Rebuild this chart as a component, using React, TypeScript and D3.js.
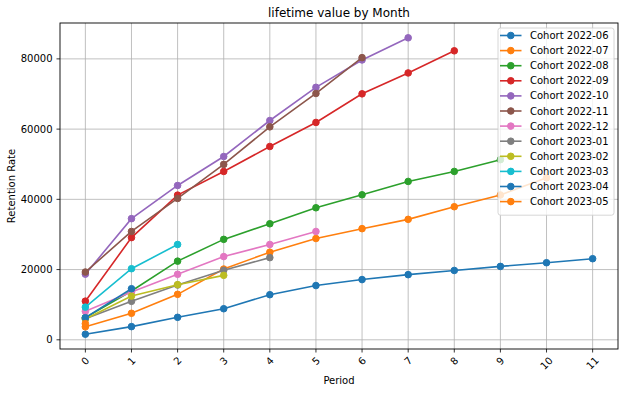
import React from 'react';
import * as d3 from 'd3';

const periods = [0, 1, 2, 3, 4, 5, 6, 7, 8, 9, 10, 11];
const yTicks = [0, 20000, 40000, 60000, 80000];

const cohorts = [
  'Cohort 2022-06', 'Cohort 2022-07', 'Cohort 2022-08', 'Cohort 2022-09',
  'Cohort 2022-10', 'Cohort 2022-11', 'Cohort 2022-12', 'Cohort 2023-01',
  'Cohort 2023-02', 'Cohort 2023-03', 'Cohort 2023-04', 'Cohort 2023-05',
];

const c202206 = [1600, 3750, 6400, 8850, 12850, 15450, 17150, 18550, 19750, 20900, 21950, 23100];
const c202207 = [3700, 7550, 12950, 20150, 24950, 28850, 31650, 34300, 37900, 41250, 46150];
const c202208 = [6300, 13900, 22400, 28600, 33050, 37600, 41300, 45100, 47950, 51300];
const c202209 = [11000, 29100, 41200, 47950, 55050, 61900, 70050, 76000, 82300];
const c202210 = [18700, 34500, 43950, 52200, 62450, 71900, 79700, 86000];
const c202211 = [19300, 30850, 40250, 49950, 60650, 70150, 80350];
const c202212 = [8100, 13600, 18650, 23700, 27150, 30850];
const c202301 = [6000, 10950, 15600, 19800, 23400];
const c202302 = [5900, 12450, 15700, 18350];
const c202303 = [9300, 20250, 27150];
const c202304 = [6300, 14550];
const c202305 = [4600];

const series = [c202206, c202207, c202208, c202209, c202210, c202211, c202212, c202301, c202302, c202303, c202304, c202305];

const palette = ['#1f77b4', '#ff7f0e', '#2ca02c', '#d62728', '#9467bd', '#8c564b', '#e377c2', '#7f7f7f', '#bcbd22', '#17becf'];

const W = 624;
const H = 393;
const left = 60, right = 618, top = 23, bottom = 349;
const font = 'DejaVu Sans, sans-serif';

export default function App() {
  const x = d3.scaleLinear().domain([-0.55, 11.55]).range([left, right]);
  const all = series.flat();
  const yMin = d3.min(all) as number;
  const yMax = d3.max(all) as number;
  const pad = (yMax - yMin) * 0.05;
  const y = d3.scaleLinear().domain([yMin - pad, yMax + pad]).range([bottom, top]);

  const line = d3.line<number>().x((_, i) => x(periods[i])).y((d) => y(d));

  // legend geometry
  const lgX = 498, lgY = 28, lgW = 116, rowH = 15.1;
  const lgH = rowH * cohorts.length + 6;

  return (
    <svg width={W} height={H} style={{ position: 'absolute', left: 0, top: 0, background: '#fff' }} fontFamily={font}>
      <rect width={W} height={H} fill="#fff" />
      {/* grid */}
      {periods.map((p) => (
        <line key={'gx' + p} x1={x(p)} x2={x(p)} y1={top} y2={bottom} stroke="#b0b0b0" strokeWidth={0.8} />
      ))}
      {yTicks.map((t) => (
        <line key={'gy' + t} x1={left} x2={right} y1={y(t)} y2={y(t)} stroke="#b0b0b0" strokeWidth={0.8} />
      ))}

      {/* series */}
      <g>
        {series.map((s, i) => (
          <g key={cohorts[i]}>
            <path d={line(s) || ''} fill="none" stroke={palette[i % 10]} strokeWidth={1.6} />
            {s.map((v, j) => (
              <circle key={j} cx={x(periods[j])} cy={y(v)} r={3.3} fill={palette[i % 10]} stroke={palette[i % 10]} strokeWidth={1} />
            ))}
          </g>
        ))}
      </g>

      {/* spines */}
      <rect x={left} y={top} width={right - left} height={bottom - top} fill="none" stroke="#000" strokeWidth={0.9} />

      {/* x ticks */}
      {periods.map((p) => {
        const lbl = String(p);
        const w = lbl.length * 6.36;
        const off = (w + 7.5) * 0.707 / 2;
        return (
          <g key={'xt' + p}>
            <line x1={x(p)} x2={x(p)} y1={bottom} y2={bottom + 3.5} stroke="#000" strokeWidth={0.8} />
            <text
              x={x(p)}
              y={bottom + 7 + off}
              fontSize={10}
              textAnchor="middle"
              dominantBaseline="central"
              transform={`rotate(-45, ${x(p)}, ${bottom + 7 + off})`}
            >
              {lbl}
            </text>
          </g>
        );
      })}

      {/* y ticks */}
      {yTicks.map((t) => (
        <g key={'yt' + t}>
          <line x1={left - 3.5} x2={left} y1={y(t)} y2={y(t)} stroke="#000" strokeWidth={0.8} />
          <text x={left - 7.5} y={y(t)} fontSize={10} textAnchor="end" dominantBaseline="central">{t}</text>
        </g>
      ))}

      {/* labels */}
      <text x={(left + right) / 2} y={16.5} fontSize={12} textAnchor="middle">lifetime value by Month</text>
      <text x={(left + right) / 2} y={384} fontSize={10} textAnchor="middle">Period</text>
      <text
        x={11}
        y={(top + bottom) / 2}
        fontSize={10}
        textAnchor="middle"
        dominantBaseline="central"
        transform={`rotate(-90, 11, ${(top + bottom) / 2})`}
      >
        Retention Rate
      </text>

      {/* legend */}
      <rect x={lgX} y={lgY} width={lgW} height={lgH} rx={2.5} fill="#fff" fillOpacity={0.8} stroke="#cccccc" strokeWidth={0.8} />
      {cohorts.map((c, i) => {
        const cy = lgY + 7.5 + i * rowH;
        return (
          <g key={'lg' + c}>
            <line x1={500} x2={521.5} y1={cy} y2={cy} stroke={palette[i % 10]} strokeWidth={1.6} />
            <circle cx={510.8} cy={cy} r={3.3} fill={palette[i % 10]} stroke={palette[i % 10]} strokeWidth={1} />
            <text x={530} y={cy} fontSize={10} dominantBaseline="central">{c}</text>
          </g>
        );
      })}
    </svg>
  );
}
